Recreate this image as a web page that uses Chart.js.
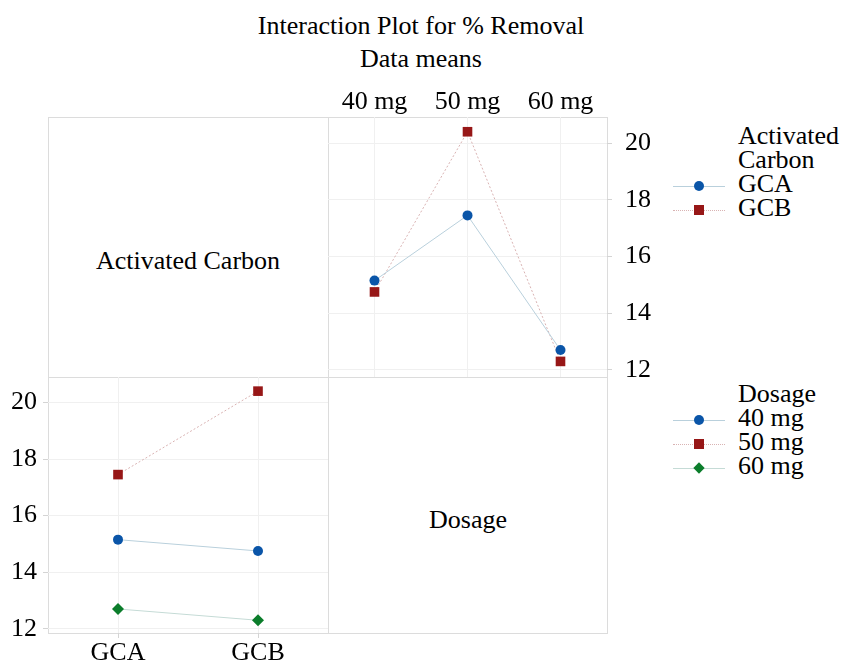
<!DOCTYPE html>
<html>
<head>
<meta charset="utf-8">
<script src="https://cdn.jsdelivr.net/npm/chart.js@4.4.0/dist/chart.umd.min.js"></script>
<style>
  body { margin: 0; background: #fff; font-family: "Liberation Serif", "Times New Roman", serif; color: #000; }
  #page { position: relative; width: 842px; height: 664px; overflow: hidden; }
  .panel { position: absolute; border: 1px solid #dcdcdc; box-sizing: border-box; }
  .txt { position: absolute; font-size: 26px; line-height: 30px; white-space: nowrap; }
  canvas { position: absolute; }
  .leg { position: absolute; left: 673px; font-size: 26px; line-height: 24px; white-space: nowrap; }
  .leg .head { padding-left: 65px; }
  .leg .row { position: relative; height: 24px; padding-left: 65px; }
  .leg .ln { position: absolute; left: 0; top: 14px; width: 52px; height: 0; border-top: 1px solid; }
  .leg .mk { position: absolute; }
</style>
</head>
<body>
<div id="page">
  <div class="txt" style="left:0;width:842px;text-align:center;top:11px">Interaction Plot for % Removal</div>
  <div class="txt" style="left:0;width:842px;text-align:center;top:44px">Data means</div>

  <div class="panel" style="left:48px;top:117px;width:281px;height:261px"></div>
  <div class="panel" style="left:328px;top:117px;width:280px;height:261px"></div>
  <div class="panel" style="left:48px;top:377px;width:281px;height:257px"></div>
  <div class="panel" style="left:328px;top:377px;width:280px;height:257px"></div>

  <div class="txt" style="left:48px;width:280px;text-align:center;top:246px">Activated Carbon</div>
  <div class="txt" style="left:328px;width:280px;text-align:center;top:505px">Dosage</div>

  <canvas id="cTR" width="330" height="297" style="left:328px;top:80px"></canvas>
  <canvas id="cBL" width="328" height="287" style="left:0;top:377px"></canvas>

  <div class="leg" id="legCarbon" style="top:124px"></div>
  <div class="leg" id="legDosage" style="top:382px"></div>
</div>
<script>
  // Interaction plot data (means of % Removal)
  const dosages = ['40 mg', '50 mg', '60 mg'];
  const carbons = ['GCA', 'GCB'];
  const gcaByDosage = [15.15, 17.45, 12.7];
  const gcbByDosage = [14.75, 20.4, 12.3];
  const yTicks = [12, 14, 16, 18, 20];

  const styles = [
    { color: '#0a55a8', line: '#b9d0dc', dash: [], shape: 'circle', r: 5 },
    { color: '#971717', line: '#d9b3b3', dash: [2, 2], shape: 'rect', r: 6.8 },
    { color: '#0b7d2b', line: '#c5dbd6', dash: [], shape: 'rectRot', r: 6 }
  ];

  const font = { family: '"Liberation Serif", "Times New Roman", serif', size: 26 };
  const gridColor = '#f0f0f0';
  const tickColor = '#d4d4d4';

  function makeSet(label, data, st) {
    return {
      label: label,
      data: data,
      borderColor: st.line,
      borderWidth: 1,
      borderDash: st.dash,
      backgroundColor: st.color,
      pointStyle: st.shape,
      pointRadius: st.r,
      pointBorderWidth: 0,
      pointBackgroundColor: st.color,
      tension: 0,
      clip: false
    };
  }

  function noPad(s) {
    s.paddingTop = 0; s.paddingBottom = 0; s.paddingLeft = 0; s.paddingRight = 0;
  }

  const byCarbon = [gcaByDosage, gcbByDosage];
  const byDosage = dosages.map((d, i) => [gcaByDosage[i], gcbByDosage[i]]);

  // top right: dosage on x, one line per carbon
  new Chart(document.getElementById('cTR'), {
    type: 'line',
    data: {
      labels: dosages,
      datasets: carbons.map((c, i) => makeSet(c, byCarbon[i], styles[i]))
    },
    options: {
      responsive: false,
      animation: false,
      layout: { padding: 0, autoPadding: false },
      plugins: { legend: { display: false }, tooltip: { enabled: false } },
      scales: {
        x: {
          position: 'top',
          offset: true,
          grid: { color: gridColor, offset: false, drawTicks: false },
          border: { display: false },
          ticks: { font: font, color: '#000', padding: -1, maxRotation: 0 },
          afterFit(s) { s.height = 37; noPad(s); }
        },
        y: {
          position: 'right',
          min: 11.75,
          max: 20.92,
          afterBuildTicks(s) { s.ticks = yTicks.map(v => ({ value: v })); },
          grid: { color: gridColor, tickColor: tickColor, tickLength: 5 },
          border: { display: false },
          ticks: { font: font, color: '#000', padding: 13 },
          afterFit(s) { s.width = 51; noPad(s); }
        }
      }
    }
  });

  // bottom left: carbon on x, one line per dosage
  new Chart(document.getElementById('cBL'), {
    type: 'line',
    data: {
      labels: carbons,
      datasets: dosages.map((d, i) => makeSet(d, byDosage[i], styles[i]))
    },
    options: {
      responsive: false,
      animation: false,
      layout: { padding: 0, autoPadding: false },
      plugins: { legend: { display: false }, tooltip: { enabled: false } },
      scales: {
        x: {
          position: 'bottom',
          offset: true,
          grid: { color: gridColor, offset: false, tickColor: tickColor, tickLength: 5 },
          border: { display: false },
          ticks: { font: font, color: '#000', padding: 0, maxRotation: 0 },
          afterFit(s) { s.height = 31; noPad(s); }
        },
        y: {
          position: 'left',
          min: 11.85,
          max: 20.9,
          afterBuildTicks(s) { s.ticks = yTicks.map(v => ({ value: v })); },
          grid: { color: gridColor, tickColor: tickColor, tickLength: 5 },
          border: { display: false },
          ticks: { font: font, color: '#000', padding: 6 },
          afterFit(s) { s.width = 48; noPad(s); }
        }
      }
    }
  });

  // legends
  function marker(st) {
    const m = document.createElement('span');
    m.className = 'mk';
    if (st.shape === 'circle') {
      m.style.cssText = 'left:21px;top:9px;width:10px;height:10px;border-radius:50%;background:' + st.color;
    } else if (st.shape === 'rect') {
      m.style.cssText = 'left:21px;top:9px;width:10px;height:10px;background:' + st.color;
    } else {
      m.style.cssText = 'left:22px;top:10px;width:8px;height:8px;transform:rotate(45deg);background:' + st.color;
    }
    return m;
  }

  function buildLegend(el, titleLines, names) {
    titleLines.forEach(t => {
      const h = document.createElement('div');
      h.className = 'head';
      h.textContent = t;
      el.appendChild(h);
    });
    names.forEach((n, i) => {
      const row = document.createElement('div');
      row.className = 'row';
      const ln = document.createElement('span');
      ln.className = 'ln';
      ln.style.borderTopColor = styles[i].line;
      if (styles[i].dash.length) ln.style.borderTopStyle = 'dotted';
      row.appendChild(ln);
      row.appendChild(marker(styles[i]));
      row.appendChild(document.createTextNode(n));
      el.appendChild(row);
    });
  }

  buildLegend(document.getElementById('legCarbon'), ['Activated', 'Carbon'], carbons);
  buildLegend(document.getElementById('legDosage'), ['Dosage'], dosages);
</script>
</body>
</html>
